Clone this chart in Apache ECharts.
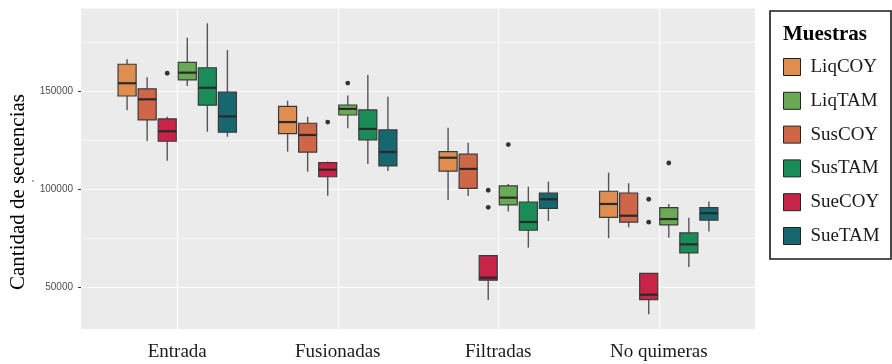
<!DOCTYPE html>
<html><head><meta charset="utf-8">
<script src="https://cdn.jsdelivr.net/npm/echarts@6/dist/echarts.min.js"></script>
<style>html,body{margin:0;padding:0;background:#fff}#chart{width:892px;height:364px}</style>
</head><body><div id="chart"></div>
<script>
// ---- data ----
const categories = ['Entrada', 'Fusionadas', 'Filtradas', 'No quimeras'];
const samples = ['LiqCOY', 'LiqTAM', 'SusCOY', 'SusTAM', 'SueCOY', 'SueTAM'];
const dodgeOrder = ['LiqCOY', 'SusCOY', 'SueCOY', 'LiqTAM', 'SusTAM', 'SueTAM'];
const sampleColors = ['#E08E50', '#6AAA56', '#D06648', '#1A8C5A', '#C72448', '#166770'];
const yTicks = [50000, 100000, 150000];
const yTickLabels = ['50000', '100000', '150000'];
const yMin = 28700, yMax = 192500;
// per category: [min, q1, median, q3, max]
const LiqCOY = [[140300,147600,154100,163800,166300],[119200,128400,134300,142300,145200],[94500,109300,116100,119200,131400],[75000,85700,92500,99000,108500]];
const SusCOY = [[124600,135400,145900,151200,157100],[109000,119000,127700,133700,137000],[96600,100500,110400,117900,123800],[80600,83200,86500,98100,103100]];
const SueCOY = [[114600,124500,129600,135900,137000],[96700,106400,110000,113600,114200],[43500,53600,54900,66100,66100],[36200,43700,46200,57100,57100]];
const LiqTAM = [[152700,155800,159500,164800,177300],[131100,137900,141000,143000,147800],[88600,92000,95700,101700,102700],[75300,81800,84800,90600,92500]];
const SusTAM = [[129400,142900,151800,162000,184700],[112900,125200,130800,140500,158300],[70200,79100,83300,93500,101300],[60400,67500,71900,77700,85500]];
const SueTAM = [[126800,129100,137200,149600,171100],[109300,111900,119000,130300,147200],[83800,90300,94900,98000,103900],[78400,84300,87800,90600,93700]];
// outliers: [category, value]
const SueCOY_out = [['Entrada',159200],['Fusionadas',134300],['Filtradas',99500],['Filtradas',90800],['No quimeras',94900],['No quimeras',83200]];
const LiqTAM_out = [['Fusionadas',154200],['Filtradas',122800],['No quimeras',113400]];
const stats = {LiqCOY, LiqTAM, SusCOY, SusTAM, SueCOY, SueTAM};
const outliers = {SueCOY: SueCOY_out, LiqTAM: LiqTAM_out};

// ---- drawing ----
const PITCH = 0.125, BOXW = 0.1125;
function boxRender(slot, color) {
  return function (params, api) {
    const c = api.value(0);
    const bw = api.size([1, 0])[0];
    const dx = (slot - 2.5) * PITCH * bw;
    const hw = BOXW * bw / 2;
    const pMin = api.coord([c, api.value(1)]);
    const pQ1 = api.coord([c, api.value(2)]);
    const pMed = api.coord([c, api.value(3)]);
    const pQ3 = api.coord([c, api.value(4)]);
    const pMax = api.coord([c, api.value(5)]);
    const x = pMin[0] + dx;
    const ws = {stroke: '#555', lineWidth: 1.4};
    return {type: 'group', children: [
      {type: 'line', shape: {x1: x, y1: pMax[1], x2: x, y2: pQ3[1]}, style: ws},
      {type: 'line', shape: {x1: x, y1: pQ1[1], x2: x, y2: pMin[1]}, style: ws},
      {type: 'rect', shape: {x: x - hw, y: pQ3[1], width: 2 * hw, height: pQ1[1] - pQ3[1]}, style: {fill: color, stroke: '#3a3a3a', lineWidth: 1.2}},
      {type: 'line', shape: {x1: x - hw, y1: pMed[1], x2: x + hw, y2: pMed[1]}, style: {stroke: '#2a2a2a', lineWidth: 2.2}}
    ]};
  };
}
function outRender(slot) {
  return function (params, api) {
    const c = api.value(0);
    const bw = api.size([1, 0])[0];
    const p = api.coord([c, api.value(1)]);
    return {type: 'circle', shape: {cx: p[0] + (slot - 2.5) * PITCH * bw, cy: p[1], r: 2.4}, style: {fill: '#333'}};
  };
}

const series = [];
samples.forEach(function (name, i) {
  const slot = dodgeOrder.indexOf(name);
  series.push({
    name: name, type: 'custom', coordinateSystem: 'cartesian2d', xAxisIndex: 1, yAxisIndex: 2,
    itemStyle: {color: sampleColors[i]},
    renderItem: boxRender(slot, sampleColors[i]),
    encode: {x: 0, y: [1, 2, 3, 4, 5]},
    data: stats[name].map(function (s, k) { return [categories[k]].concat(s); }),
    z: 3
  });
});
samples.forEach(function (name, i) {
  if (!outliers[name]) return;
  const slot = dodgeOrder.indexOf(name);
  series.push({
    name: name, type: 'custom', coordinateSystem: 'cartesian2d', xAxisIndex: 1, yAxisIndex: 2,
    itemStyle: {color: sampleColors[i]},
    renderItem: outRender(slot),
    encode: {x: 0, y: 1},
    data: outliers[name],
    z: 4
  });
});

const chart = echarts.init(document.getElementById('chart'), null, {renderer: 'canvas'});
chart.setOption({
  animation: false,
  backgroundColor: '#fff',
  grid: [
    {left: 81, right: 137, top: 8, bottom: 35, show: true, backgroundColor: '#EBEBEB', borderWidth: 0},
    {left: 97, right: 153, top: 8, bottom: 35}
  ],
  xAxis: [
    {gridIndex: 0, type: 'value', show: false, min: 0, max: 1},
    {gridIndex: 1, type: 'category', data: categories,
      axisLine: {show: false}, axisTick: {show: false},
      axisLabel: {fontFamily: 'Liberation Serif', fontSize: 19, color: '#1a1a1a', margin: 14},
      splitLine: {show: true, alignWithLabel: true, lineStyle: {color: '#ffffff', width: 1.2}}}
  ],
  yAxis: [
    {gridIndex: 0, type: 'value', min: yMin, max: yMax, minInterval: 50000, maxInterval: 50000,
      axisLine: {show: false},
      axisTick: {show: true, length: 3, customValues: yTicks, lineStyle: {color: '#333'}},
      axisLabel: {customValues: yTicks, fontFamily: 'Liberation Sans', fontSize: 10, color: '#4D4D4D', margin: 8,
        formatter: function (v) { const k = yTicks.indexOf(v); return k >= 0 ? yTickLabels[k] : ''; }},
      splitLine: {show: true, lineStyle: {color: '#ffffff', width: 1.2}}},
    {gridIndex: 0, type: 'value', min: yMin, max: yMax, minInterval: 25000, maxInterval: 25000, position: 'left',
      axisLine: {show: false}, axisTick: {show: false}, axisLabel: {show: false},
      splitLine: {show: true, lineStyle: {color: '#ffffff', width: 0.6}}},
    {gridIndex: 1, type: 'value', min: yMin, max: yMax, show: false, splitLine: {show: false}}
  ],
  legend: {
    orient: 'vertical', left: 783, top: 57.5, padding: 0,
    itemWidth: 17, itemHeight: 17, itemGap: 14.8, icon: 'rect',
    data: samples, selectedMode: false,
    itemStyle: {borderColor: '#222', borderWidth: 1},
    textStyle: {fontFamily: 'Liberation Serif', fontSize: 19, color: '#1a1a1a', lineHeight: 17, padding: [0, 0, 0, 5]}
  },
  graphic: [
    {type: 'rect', shape: {x: 770, y: 11, width: 121, height: 248}, style: {fill: 'none', stroke: '#1a1a1a', lineWidth: 1.6}, silent: true},
    {type: 'text', x: 783, y: 35, style: {text: 'Muestras', font: 'bold 21px "Liberation Serif"', fill: '#000', verticalAlign: 'middle'}},
    {type: 'text', x: 18, y: 192, rotation: Math.PI / 2, style: {text: 'Cantidad de secuencias', font: '21px "Liberation Serif"', fill: '#000', align: 'center', verticalAlign: 'middle'}},
    {type: 'circle', shape: {cx: 33, cy: 181, r: 0.8}, style: {fill: '#444'}}
  ],
  series: series
});
</script></body></html>
